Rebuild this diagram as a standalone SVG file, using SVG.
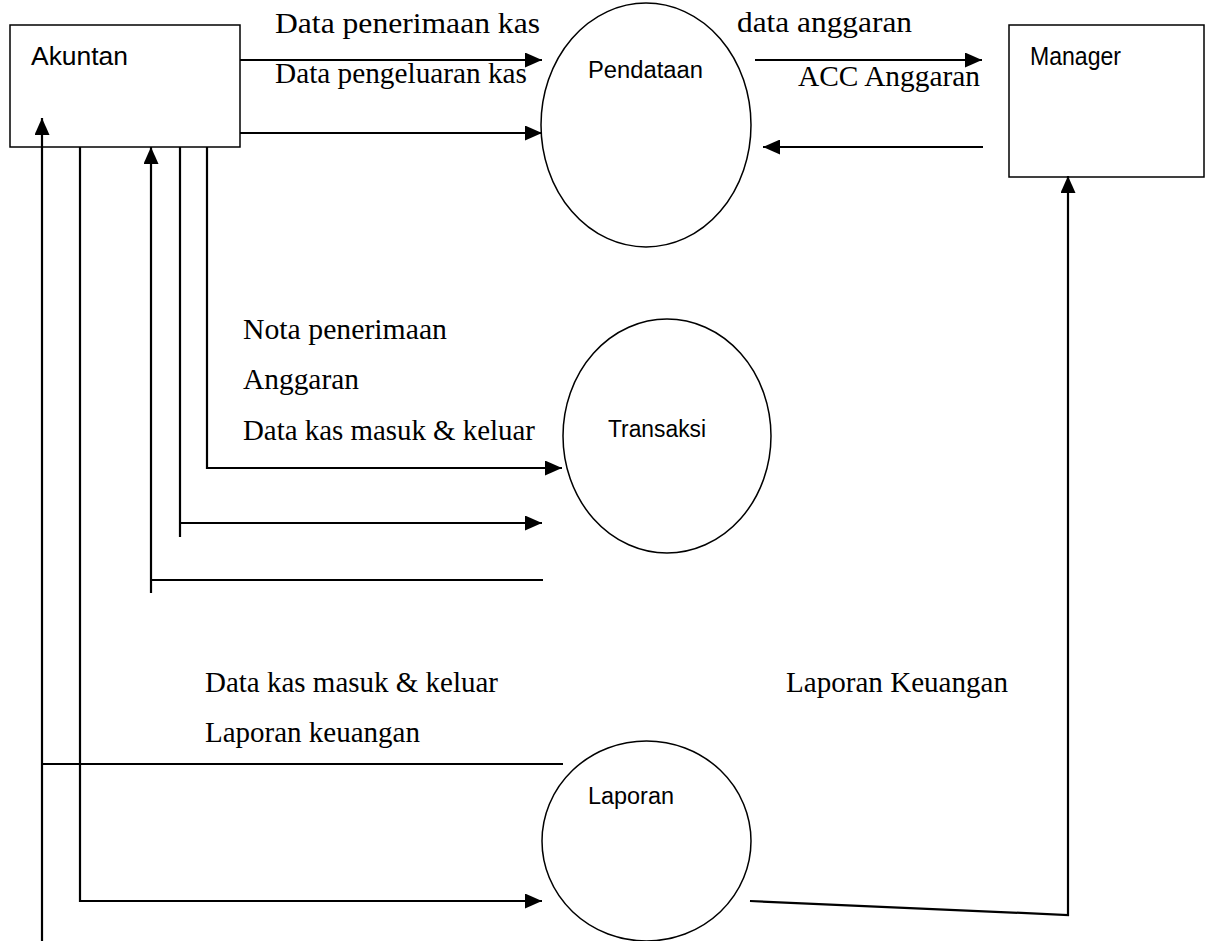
<svg xmlns="http://www.w3.org/2000/svg" width="1208" height="941" viewBox="0 0 1208 941">
<style>
.box{fill:#fff;stroke:#000;stroke-width:1.5}
.proc{fill:#fff;stroke:#000;stroke-width:1.5}
.sans{font-family:"Liberation Sans",Arial,sans-serif;fill:#000}
.serif{font-family:"Liberation Serif","Times New Roman",serif;font-size:30px;fill:#000}
.c{fill:none;stroke:#000;stroke-width:2.2}
.a{marker-end:url(#ah)}
</style>
<defs>
<marker id="ah" markerUnits="userSpaceOnUse" markerWidth="17" markerHeight="15" refX="17" refY="7.5" orient="auto">
<path d="M0,0 L17,7.5 L0,15 z" fill="#000"/>
</marker>
</defs>
<rect width="1208" height="941" fill="#fff"/>
<g id="akuntan">
<rect class="box" x="10" y="25" width="230" height="122"/>
<text class="sans" x="31" y="65" font-size="25" textLength="97" lengthAdjust="spacingAndGlyphs">Akuntan</text>
</g>
<g id="manager">
<rect class="box" x="1009" y="25" width="195" height="152"/>
<text class="sans" x="1030" y="65" font-size="25" textLength="91" lengthAdjust="spacingAndGlyphs">Manager</text>
</g>
<g id="pendataan">
<ellipse class="proc" cx="646" cy="125" rx="105" ry="122"/>
<text class="sans" x="588" y="78" font-size="23" textLength="115" lengthAdjust="spacingAndGlyphs">Pendataan</text>
</g>
<g id="transaksi">
<ellipse class="proc" cx="667" cy="436" rx="104" ry="117"/>
<text class="sans" x="608" y="437" font-size="23" textLength="98" lengthAdjust="spacingAndGlyphs">Transaksi</text>
</g>
<g id="laporan">
<ellipse class="proc" cx="646.5" cy="841" rx="104.5" ry="100"/>
<text class="sans" x="588" y="804" font-size="23" textLength="86" lengthAdjust="spacingAndGlyphs">Laporan</text>
</g>
<g id="connectors">
<path class="c a" d="M240,60 H542"/>
<path class="c a" d="M240,133 H542"/>
<path class="c a" d="M755,60 H982"/>
<path class="c a" d="M983,147 H763"/>
<path class="c a" d="M207,147 V468 H562"/>
<path class="c" d="M180,147 V537"/>
<path class="c a" d="M180,523 H542"/>
<path class="c" d="M543,580 H151"/>
<path class="c a" d="M151,593 V147"/>
<path class="c a" d="M80,147 V901 H542"/>
<path class="c a" d="M42,941 V118"/>
<path class="c" d="M563,764 H42"/>
<path class="c a" d="M750,901 L1068,915 V176"/>
</g>
<g id="labels">
<text class="serif" x="275" y="33" textLength="265" lengthAdjust="spacingAndGlyphs">Data penerimaan kas</text>
<text class="serif" x="275" y="83" textLength="252" lengthAdjust="spacingAndGlyphs">Data pengeluaran kas</text>
<text class="serif" x="737" y="32" textLength="175" lengthAdjust="spacingAndGlyphs">data anggaran</text>
<text class="serif" x="798" y="86" textLength="182" lengthAdjust="spacingAndGlyphs">ACC Anggaran</text>
<text class="serif" x="243" y="339" textLength="204" lengthAdjust="spacingAndGlyphs">Nota penerimaan</text>
<text class="serif" x="243" y="389" textLength="116" lengthAdjust="spacingAndGlyphs">Anggaran</text>
<text class="serif" x="243" y="440" textLength="292" lengthAdjust="spacingAndGlyphs">Data kas masuk &amp; keluar</text>
<text class="serif" x="205" y="692" textLength="293" lengthAdjust="spacingAndGlyphs">Data kas masuk &amp; keluar</text>
<text class="serif" x="205" y="742" textLength="215" lengthAdjust="spacingAndGlyphs">Laporan keuangan</text>
<text class="serif" x="786" y="692" textLength="222" lengthAdjust="spacingAndGlyphs">Laporan Keuangan</text>
</g>
</svg>
